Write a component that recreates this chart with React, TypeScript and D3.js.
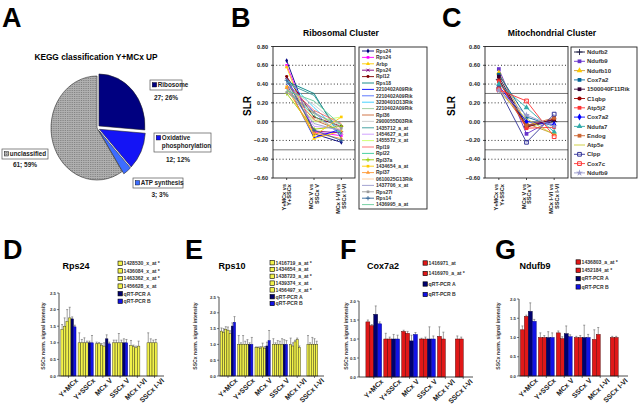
import React from "react";
import * as d3 from "d3";

const FONT = "'Liberation Sans', Arial, Helvetica, sans-serif";

// ---------- Panel A data ----------
const keggCategories = ["Ribosome", "Oxidative phosphorylation", "ATP synthesis", "unclassified"];
const keggCounts = [27, 12, 3, 61];
const keggPercents = [26, 12, 3, 59];
const keggColors = ["#000080", "#1414f5", "#3d6dff", "url(#grayDots)"];

// ---------- Panels B / C data ----------
const slrComparisons = [
  ["Y+MCx vs", "Y+SSCx"],
  ["MCx V vs", "SSCx V"],
  ["MCx I-VI vs", "SSCx I-VI"],
];
const slrTicks = [0.8, 0.6, 0.4, 0.2, 0.0, -0.2, -0.4, -0.6];
const slrDotted = [0.6, 0.4, 0.2, -0.2, -0.4];
const slrSolid = [0.3, 0.0, -0.3];

const riboNames = [
  "Rps24", "Rps24", "Arbp", "Rps24", "Rpl12", "Rps18", "2210402A09Rik", "2210402A09Rik",
  "3230401O13Rik", "2210402A09Rik", "Rpl36", "2900055D03Rik", "1435712_a_at", "1454627_a_at",
  "1455572_x_at", "Rpl19", "Rpl22", "Rpl37a", "1434654_a_at", "Rpl37", "0610025G13Rik",
  "1437706_x_at", "Rps27l", "Rps14", "1436995_a_at",
];
const riboValues = [
  [0.65, -0.13, -0.22], [0.6, -0.11, -0.15], [0.58, -0.18, -0.1], [0.47, -0.1, -0.12],
  [0.48, 0.05, -0.05], [0.43, 0.3, -0.18], [0.4, -0.17, -0.08], [0.42, 0.1, -0.15],
  [0.45, 0.15, -0.12], [0.38, 0.08, -0.03], [0.36, 0.02, -0.1], [0.35, 0.18, -0.06],
  [0.41, 0.28, -0.14], [0.37, -0.05, -0.08], [0.33, 0.0, 0.05], [0.39, 0.12, -0.02],
  [0.34, 0.06, -0.12], [0.3, -0.08, -0.05], [0.37, -0.15, 0.05], [0.36, -0.12, -0.18],
  [0.32, 0.04, -0.09], [0.35, -0.02, -0.1], [0.31, 0.1, -0.07], [0.44, -0.09, -0.2],
  [0.33, 0.22, -0.04],
];
const riboColors = [
  "#000080", "#ff00ff", "#ffcc00", "#800080", "#800000", "#008080", "#0000ff", "#4d6bff",
  "#33ccff", "#99cc99", "#cc6633", "#c8c8c8", "#339999", "#cc99ff", "#ccff66", "#ff6666",
  "#33cc99", "#99cc00", "#ffcc00", "#ff9933", "#ffcc99", "#9999cc", "#999999", "#336699",
  "#66cc99",
];
const riboMarkers = [
  "diamond", "square", "triangle", "x", "circle", "none", "none", "none", "none", "none",
  "none", "none", "none", "none", "none", "none", "none", "plus", "square", "triangle",
  "none", "none", "square", "plus", "none",
];

const mitoNames = [
  "Ndufb2", "Ndufb9", "Ndufb10", "Cox7a2", "1500040F11Rik", "C1qbp", "Atp5j2", "Cox7a2",
  "Ndufa7", "Endog", "Atp5e", "Clpp", "Cox7c", "Ndufb9",
];
const mitoValues = [
  [0.45, -0.05, 0.0], [0.56, -0.13, 0.03], [0.52, -0.02, -0.13], [0.5, 0.05, -0.05],
  [0.48, -0.04, 0.02], [0.44, -0.06, 0.03], [0.43, -0.07, -0.06], [0.38, 0.0, -0.03],
  [0.4, 0.15, -0.11], [0.36, -0.04, 0.04], [0.32, 0.03, -0.14], [0.35, -0.22, 0.08],
  [0.34, 0.22, -0.16], [0.33, 0.07, -0.05],
];
const mitoColors = [
  "#1a1a40", "#6633cc", "#cc9933", "#006699", "#330033", "#990000", "#ff3333", "#0000ff",
  "#33aaaa", "#cc6633", "#cccc33", "#333399", "#ff3333", "#9999cc",
];
const mitoMarkerColors = [
  "#1a1a40", "#6633cc", "#ffcc00", "#006699", "#330033", "#990000", "#ff3333", "#0000ff",
  "#33aaaa", "#cc6633", "#cccc33", "#333399", "#ff3333", "#9999cc",
];
const mitoMarkers = [
  "plus", "square", "triangle", "square", "square", "circle", "square", "diamond",
  "triangle", "square", "none", "squareOpen", "squareOpen", "star",
];

// ---------- Panels D-G data ----------
const barCategories = ["Y+MCx", "Y+SSCx", "MCx V", "SSCx V", "MCx I-VI", "SSCx I-VI"];

const rps24Series = ["1428530_x_at *", "1436084_x_at *", "1463362_x_at *", "1456628_x_at", "qRT-PCR A", "qRT-PCR B"];
const rps24Kinds = ["yellow", "yellow", "yellow", "yellow", "navy", "blue"];
const rps24Means = [
  [1.4, 1.0, 0.97, 1.0, 0.92, 1.0],
  [1.5, 1.0, 0.98, 1.0, 0.88, 1.0],
  [1.65, 1.0, 0.93, 1.0, 0.85, 1.0],
  [1.75, 1.0, 0.9, 1.0, 0.9, 1.0],
  [1.72, 1.0, 1.12, 1.0, null, null],
  [1.48, 1.0, 0.97, 1.0, null, null],
];
const rps24Errors = [
  [0.15, 0.3, 0.05, 0.08, 0.15, 0.3],
  [0.25, 0.1, 0.03, 0.08, 0.05, 0.12],
  [0.35, 0.15, 0.05, 0.28, 0.05, 0.08],
  [0.32, 0.05, 0.1, 0.08, 0.15, 0.1],
  [0.06, 0.05, 0.12, 0.12, null, null],
  [0.05, 0.22, 0.05, 0.1, null, null],
];

const rps10Series = ["1416719_a_at *", "1434654_a_at", "1438723_a_at *", "1439374_x_at", "1456497_x_at *", "qRT-PCR A", "qRT-PCR B"];
const rps10Kinds = ["yellow", "yellow", "yellow", "yellow", "yellow", "navy", "blue"];
const rps10Means = [
  [1.42, 1.0, 0.9, 1.0, 1.0, 1.0],
  [1.38, 1.0, 0.9, 1.0, 0.95, 1.0],
  [1.48, 1.0, 0.88, 1.0, 1.08, 1.0],
  [1.45, 1.0, 0.92, 1.0, 1.15, 1.0],
  [1.35, 1.0, 0.88, 1.0, 0.9, 1.0],
  [1.58, 1.0, 0.95, 1.0, null, null],
  [1.7, 1.0, 1.12, 1.0, null, null],
];
const rps10Errors = [
  [0.1, 0.28, 0.02, 0.18, 0.2, 0.28],
  [0.12, 0.05, 0.02, 0.05, 0.1, 0.05],
  [0.08, 0.28, 0.05, 0.12, 0.05, 0.22],
  [0.1, 0.1, 0.12, 0.1, 0.05, 0.18],
  [0.08, 0.15, 0.05, 0.18, 0.05, 0.1],
  [0.1, 0.05, 0.12, 0.15, null, null],
  [0.18, 0.22, 0.32, 0.12, null, null],
];

const cox7a2Series = ["1416971_at", "1416970_a_at *", "qRT-PCR A", "qRT-PCR B"];
const cox7a2Kinds = ["red", "red", "navy", "blue"];
const cox7a2Means = [
  [1.45, 1.0, 1.2, 1.0, 1.07, 1.0],
  [1.35, 1.0, 1.15, 1.0, 1.0, 1.0],
  [1.65, 1.0, 0.95, 1.0, null, null],
  [1.4, 1.0, 1.12, 1.0, null, null],
];
const cox7a2Errors = [
  [0.05, 0.15, 0.03, 0.02, 0.25, 0.08],
  [0.03, 0.05, 0.05, 0.05, 0.18, 0.05],
  [0.22, 0.12, 0.15, 0.32, null, null],
  [0.05, 0.1, 0.05, 0.08, null, null],
];

const ndufb9Series = ["1436803_a_at *", "1452184_at *", "qRT-PCR A", "qRT-PCR B"];
const ndufb9Kinds = ["red", "red", "navy", "blue"];
const ndufb9Means = [
  [1.2, 1.0, 1.12, 1.0, 0.95, 1.0],
  [1.55, 1.0, 0.97, 1.0, 1.08, 1.0],
  [1.68, 1.0, 1.1, 1.0, null, null],
  [1.42, 1.0, 1.02, 1.0, null, null],
];
const ndufb9Errors = [
  [0.1, 0.12, 0.05, 0.03, 0.25, 0.03],
  [0.03, 0.05, 0.05, 0.05, 0.18, 0.03],
  [0.22, 0.15, 0.2, 0.32, null, null],
  [0.05, 0.12, 0.05, 0.08, null, null],
];

const kindFill: Record<string, string> = {
  yellow: "#f2f24a",
  red: "#e01818",
  navy: "#00006e",
  blue: "#1212e6",
};
const kindStroke: Record<string, string> = {
  yellow: "#3a3a10",
  red: "#500000",
  navy: "#000030",
  blue: "#000080",
};

// ---------- helpers ----------
const symbolTypes: Record<string, any> = {
  diamond: d3.symbolDiamond,
  square: d3.symbolSquare,
  squareOpen: d3.symbolSquare,
  triangle: d3.symbolTriangle,
  circle: d3.symbolCircle,
  star: d3.symbolStar,
  plus: (d3 as any).symbolPlus || d3.symbolCross,
  x: (d3 as any).symbolTimes || (d3 as any).symbolX || d3.symbolCross,
};

function Marker({ kind, x, y, color, size }: { kind: string; x: number; y: number; color: string; size: number }) {
  if (kind === "none") return null;
  const d = d3.symbol().type(symbolTypes[kind]).size(size)() || "";
  const stroked = kind === "plus" || kind === "x" || kind === "squareOpen";
  return (
    <path
      d={d}
      transform={`translate(${x},${y})`}
      fill={stroked ? (kind === "squareOpen" ? "#ffffff" : "none") : color}
      fillOpacity={kind === "squareOpen" ? 0.3 : 1}
      stroke={stroked ? color : "none"}
      strokeWidth={kind === "squareOpen" ? 1 : 0.9}
    />
  );
}

function PanelLetter({ x, y, letter }: { x: number; y: number; letter: string }) {
  return (
    <text x={x} y={y} fontFamily={FONT} fontWeight={900} fontSize={27} fill="#000">
      {letter}
    </text>
  );
}

// ---------- Panel A ----------
function PiePanel() {
  const cx = 97;
  const cy = 128;
  const r = 52;
  const sx = 46 / 52;
  const arcs = d3.pie<number>().sort(null).value((d) => d)(keggCounts);
  const arc = d3.arc<d3.PieArcDatum<number>>().innerRadius(0).outerRadius(r);
  const explode = [3, 3, 3, 0];
  const boxes = [
    { x: 150, y: 80, w: 32, h: 10, lines: ["Ribosome"], lx: 166, ly: 100 },
    { x: 154, y: 133, w: 57, h: 19, lines: ["Oxidative", "phosphorylation"], lx: 178, ly: 162 },
    { x: 133, y: 178, w: 50, h: 10, lines: ["ATP synthesis"], lx: 160, ly: 197 },
    { x: 2, y: 149, w: 46, h: 10, lines: ["unclassified"], lx: 25, ly: 167 },
  ];
  return (
    <g>
      <PanelLetter x={2} y={27} letter="A" />
      <text x={96} y={60} textAnchor="middle" fontFamily={FONT} fontWeight="bold" fontSize={8.3}>
        KEGG classification Y+MCx UP
      </text>
      <g transform={`translate(${cx},${cy}) scale(${sx},1)`}>
        {arcs.map((a, i) => {
          const m = (a.startAngle + a.endAngle) / 2;
          const dx = Math.sin(m) * explode[i];
          const dy = -Math.cos(m) * explode[i];
          return (
            <path
              key={i}
              d={arc(a) || ""}
              transform={`translate(${dx},${dy})`}
              fill={keggColors[i]}
              stroke="#222"
              strokeWidth={0.6}
            />
          );
        })}
      </g>
      {boxes.map((b, i) => (
        <g key={i}>
          <rect x={b.x} y={b.y} width={b.w} height={b.h} fill="#fff" stroke="#555" strokeWidth={0.7} />
          <rect
            x={b.x + 2.2}
            y={b.y + 2.5}
            width={4.5}
            height={4.5}
            fill={keggColors[i]}
            stroke="#000"
            strokeWidth={0.4}
          />
          {b.lines.map((l, j) => (
            <text
              key={j}
              x={b.x + 7.8}
              y={b.y + 7.3 + j * 8}
              fontFamily={FONT}
              fontWeight="bold"
              fontSize={6.3}
              fill="#222"
            >
              {l}
            </text>
          ))}
          <text x={b.lx} y={b.ly} textAnchor="middle" fontFamily={FONT} fontWeight="bold" fontSize={6.5} fill="#222">
            {`${keggCounts[i]}; ${keggPercents[i]}%`}
          </text>
        </g>
      ))}
    </g>
  );
}

// ---------- Panels B/C ----------
type LineProps = {
  letter: string;
  letterX: number;
  title: string;
  titleX: number;
  left: number;
  right: number;
  names: string[];
  values: number[][];
  colors: string[];
  markerColors: string[];
  markers: string[];
  markerSize: number;
  legend: { x: number; y: number; w: number; h: number; first: number; dy: number; font: number; line: number };
  slrX: number;
};

function LinePanel(p: LineProps) {
  const top = 46.5;
  const bottom = 178;
  const y = d3.scaleLinear().domain([-0.6, 0.8]).range([bottom, top]);
  const x = d3.scalePoint<number>().domain([0, 1, 2]).range([p.left, p.right]).padding(0.5);
  const line = d3
    .line<number>()
    .x((_, i) => x(i) as number)
    .y((d) => y(d));
  const fmt = d3.format(".2f");
  const lg = p.legend;
  return (
    <g>
      <PanelLetter x={p.letterX} y={27} letter={p.letter} />
      <text x={p.titleX} y={36} textAnchor="middle" fontFamily={FONT} fontWeight="bold" fontSize={8.6}>
        {p.title}
      </text>
      <text
        transform={`translate(${p.slrX},106) rotate(-90)`}
        textAnchor="middle"
        fontFamily={FONT}
        fontWeight="bold"
        fontSize={10}
      >
        SLR
      </text>
      {slrDotted.map((v) => (
        <line key={v} x1={p.left} x2={p.right} y1={y(v)} y2={y(v)} stroke="#000" strokeWidth={0.8} strokeDasharray="1,2.2" />
      ))}
      {slrSolid.map((v) => (
        <line key={v} x1={p.left} x2={p.right} y1={y(v)} y2={y(v)} stroke="#777" strokeWidth={1} />
      ))}
      <rect x={p.left} y={top} width={p.right - p.left} height={bottom - top} fill="none" stroke="#222" strokeWidth={0.9} />
      {slrTicks.map((v) => (
        <g key={v}>
          <line x1={p.left - 2} x2={p.left} y1={y(v)} y2={y(v)} stroke="#222" strokeWidth={0.8} />
          <text x={p.left - 5} y={y(v) + 2} textAnchor="end" fontFamily={FONT} fontWeight="bold" fontSize={5.6} fill="#222">
            {fmt(v)}
          </text>
        </g>
      ))}
      {slrComparisons.map((c, i) => {
        const cx = x(i) as number;
        return (
          <g key={i}>
            <line x1={cx} x2={cx} y1={bottom} y2={bottom + 2} stroke="#222" strokeWidth={0.8} />
            <text transform={`translate(${cx - 1},184) rotate(-90)`} textAnchor="end" fontFamily={FONT} fontWeight="bold" fontSize={5.6} fill="#222">
              {c[0]}
            </text>
            <text transform={`translate(${cx + 4.8},184) rotate(-90)`} textAnchor="end" fontFamily={FONT} fontWeight="bold" fontSize={5.6} fill="#222">
              {c[1]}
            </text>
          </g>
        );
      })}
      {p.values.map((vals, s) => (
        <g key={s}>
          <path d={line(vals) || ""} fill="none" stroke={p.colors[s]} strokeWidth={0.9} />
          {vals.map((v, i) => (
            <Marker key={i} kind={p.markers[s]} x={x(i) as number} y={y(v)} color={p.markerColors[s]} size={p.markerSize} />
          ))}
        </g>
      ))}
      <rect x={lg.x} y={lg.y} width={lg.w} height={lg.h} fill="#fff" stroke="#222" strokeWidth={0.9} />
      {p.names.map((n, s) => {
        const ly = lg.first + s * lg.dy;
        return (
          <g key={s}>
            <line x1={lg.x + 3} x2={lg.x + 3 + lg.line} y1={ly} y2={ly} stroke={p.colors[s]} strokeWidth={0.9} />
            <Marker kind={p.markers[s]} x={lg.x + 3 + lg.line / 2} y={ly} color={p.markerColors[s]} size={p.markerSize} />
            <text x={lg.x + 5 + lg.line} y={ly + lg.font * 0.35} fontFamily={FONT} fontWeight="bold" fontSize={lg.font} fill="#333">
              {n}
            </text>
          </g>
        );
      })}
    </g>
  );
}

// ---------- Panels D-G ----------
type BarProps = {
  letter: string;
  letterX: number;
  title: string;
  titleX: number;
  axisX: number;
  bandRange: [number, number];
  y0: number;
  yTopPix: number;
  yMax: number;
  series: string[];
  kinds: string[];
  means: (number | null)[][];
  errors: (number | null)[][];
  legend: { x: number; first: number; dy: number };
  ylabelX: number;
};

function BarPanel(p: BarProps) {
  const y = d3.scaleLinear().domain([0, p.yMax]).range([p.y0, p.yTopPix]);
  const xb = d3.scaleBand<string>().domain(barCategories).range(p.bandRange).paddingInner(0.12).paddingOuter(0.05);
  const xs = d3
    .scaleBand<number>()
    .domain(p.series.map((_, i) => i))
    .range([0, xb.bandwidth()])
    .padding(0);
  const ticks = d3.range(0, p.yMax + 0.001, 0.5);
  const fmt = d3.format(".1f");
  const axisEnd = p.bandRange[1] + 1;
  return (
    <g>
      <PanelLetter x={p.letterX} y={259} letter={p.letter} />
      <text x={p.titleX} y={269} textAnchor="middle" fontFamily={FONT} fontWeight="bold" fontSize={9}>
        {p.title}
      </text>
      {p.series.map((s, i) => {
        const ly = p.legend.first + i * p.legend.dy;
        return (
          <g key={i}>
            <rect
              x={p.legend.x}
              y={ly - 2.2}
              width={4.4}
              height={4.4}
              fill={kindFill[p.kinds[i]]}
              stroke="#000"
              strokeWidth={0.6}
            />
            <text x={p.legend.x + 5.6} y={ly + 1.8} fontFamily={FONT} fontSize={5.1} fontWeight="bold" fill="#333">
              {s}
            </text>
          </g>
        );
      })}
      <text
        transform={`translate(${p.ylabelX},336) rotate(-90)`}
        textAnchor="middle"
        fontFamily={FONT}
        fontWeight="bold"
        fontSize={5.1}
        fill="#333"
      >
        SSCx norm. signal intensity
      </text>
      {p.means.map((row, s) =>
        row.map((v, c) => {
          if (v === null) return null;
          const bx = (xb(barCategories[c]) as number) + (xs(s) as number);
          const bw = xs.bandwidth();
          const e = p.errors[s][c] || 0;
          const ex = bx + bw / 2;
          return (
            <g key={`${s}-${c}`}>
              <line x1={ex} x2={ex} y1={y(v)} y2={y(v + e)} stroke="#777" strokeWidth={0.7} />
              <line x1={ex - 1} x2={ex + 1} y1={y(v + e)} y2={y(v + e)} stroke="#777" strokeWidth={0.7} />
              <rect
                x={bx}
                y={y(v)}
                width={bw}
                height={p.y0 - y(v)}
                fill={kindFill[p.kinds[s]]}
                stroke={kindStroke[p.kinds[s]]}
                strokeWidth={0.45}
              />
            </g>
          );
        })
      )}
      <line x1={p.axisX} x2={p.axisX} y1={p.y0} y2={y(p.yMax)} stroke="#222" strokeWidth={0.8} />
      <line x1={p.axisX} x2={axisEnd} y1={p.y0} y2={p.y0} stroke="#222" strokeWidth={0.8} />
      {ticks.map((t) => (
        <g key={t}>
          <line x1={p.axisX - 2} x2={p.axisX} y1={y(t)} y2={y(t)} stroke="#222" strokeWidth={0.6} />
          <text x={p.axisX - 3} y={y(t) + 1.5} textAnchor="end" fontFamily={FONT} fontWeight="bold" fontSize={4.3} fill="#333">
            {fmt(t)}
          </text>
        </g>
      ))}
      {barCategories.map((c) => {
        const cx = (xb(c) as number) + xb.bandwidth() / 2;
        return (
          <g key={c}>
            <line x1={cx} x2={cx} y1={p.y0} y2={p.y0 + 2} stroke="#222" strokeWidth={0.6} />
            <text
              transform={`translate(${cx + 10},${p.y0 + 5}) rotate(-45)`}
              textAnchor="end"
              fontFamily={FONT}
              fontWeight="bold"
              fontSize={7}
              fill="#222"
            >
              {c}
            </text>
          </g>
        );
      })}
    </g>
  );
}

export default function App() {
  return (
    <svg
      width={640}
      height={409}
      viewBox="0 0 640 409"
      style={{ position: "absolute", left: 0, top: 0, display: "block", background: "#fff" }}
    >
      <defs>
        <pattern id="grayDots" width={2} height={2} patternUnits="userSpaceOnUse">
          <rect width={2} height={2} fill="#b0b0b0" />
          <rect width={1} height={1} fill="#808080" />
        </pattern>
      </defs>
      <rect width={640} height={409} fill="#fff" />
      <PiePanel />
      <LinePanel
        letter="B"
        letterX={231}
        title="Ribosomal Cluster"
        titleX={341}
        left={273}
        right={355}
        names={riboNames}
        values={riboValues}
        colors={riboColors}
        markerColors={riboColors}
        markers={riboMarkers}
        markerSize={7}
        legend={{ x: 359, y: 47, w: 68, h: 162, first: 51, dy: 6.4, font: 5, line: 12 }}
        slrX={251}
      />
      <LinePanel
        letter="C"
        letterX={442}
        title="Mitochondrial Cluster"
        titleX={552}
        left={485}
        right={568}
        names={mitoNames}
        values={mitoValues}
        colors={mitoColors}
        markerColors={mitoMarkerColors}
        markers={mitoMarkers}
        markerSize={14}
        legend={{ x: 571, y: 47, w: 66, h: 131, first: 52, dy: 9.3, font: 6, line: 11 }}
        slrX={455}
      />
      <BarPanel
        letter="D"
        letterX={3}
        title="Rps24"
        titleX={76}
        axisX={59}
        bandRange={[60, 163]}
        y0={376}
        yTopPix={293}
        yMax={2.5}
        series={rps24Series}
        kinds={rps24Kinds}
        means={rps24Means}
        errors={rps24Errors}
        legend={{ x: 118, first: 263.3, dy: 7.6 }}
        ylabelX={45}
      />
      <BarPanel
        letter="E"
        letterX={185}
        title="Rps10"
        titleX={232}
        axisX={219}
        bandRange={[219.5, 323]}
        y0={376}
        yTopPix={297}
        yMax={2.5}
        series={rps10Series}
        kinds={rps10Kinds}
        means={rps10Means}
        errors={rps10Errors}
        legend={{ x: 270, first: 262.7, dy: 6.8 }}
        ylabelX={197}
      />
      <BarPanel
        letter="F"
        letterX={340}
        title="Cox7a2"
        titleX={383}
        axisX={359}
        bandRange={[365, 472]}
        y0={377}
        yTopPix={301}
        yMax={2.0}
        series={cox7a2Series}
        kinds={cox7a2Kinds}
        means={cox7a2Means}
        errors={cox7a2Errors}
        legend={{ x: 423, first: 263, dy: 10.5 }}
        ylabelX={348}
      />
      <BarPanel
        letter="G"
        letterX={495}
        title="Ndufb9"
        titleX={535}
        axisX={519}
        bandRange={[519.5, 627]}
        y0={376}
        yTopPix={299}
        yMax={2.0}
        series={ndufb9Series}
        kinds={ndufb9Kinds}
        means={ndufb9Means}
        errors={ndufb9Errors}
        legend={{ x: 576, first: 262, dy: 8.3 }}
        ylabelX={500}
      />
    </svg>
  );
}
